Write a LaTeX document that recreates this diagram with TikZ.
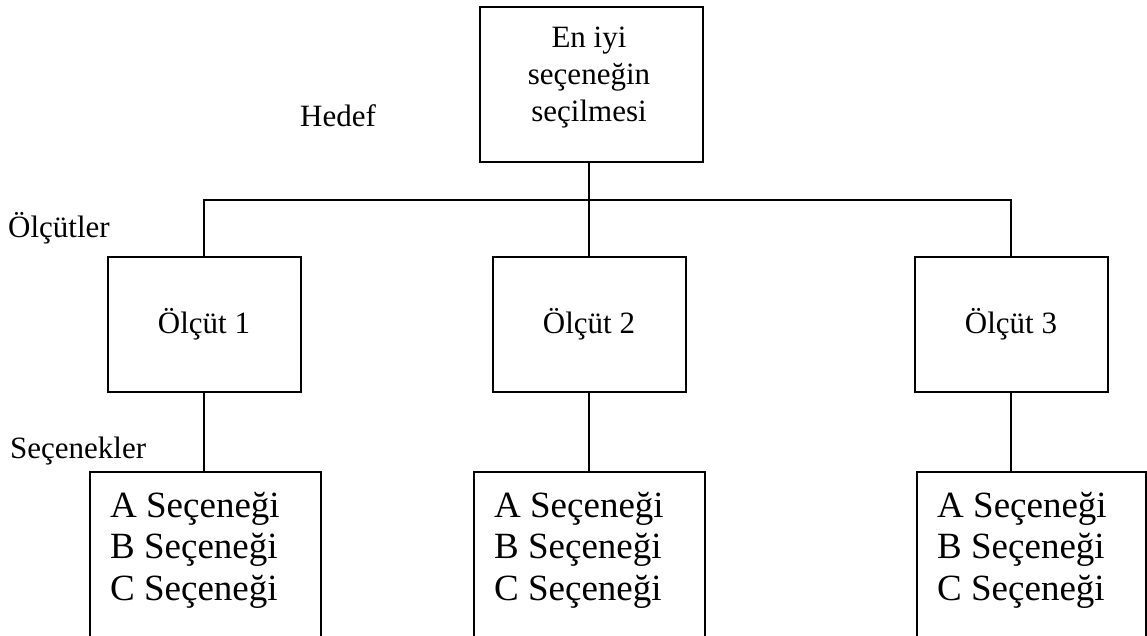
\documentclass[tikz,border=0pt]{standalone}
\usepackage{fontspec}
\setmainfont{Liberation Serif}
\begin{document}
\begin{tikzpicture}[x=1pt,y=-1pt,
  every node/.style={font=\fontsize{31}{37}\selectfont},
  boxstyle/.style={draw, line width=2pt, inner sep=0pt},
  wire/.style={line width=2pt},
  opttext/.style={anchor=north west, inner sep=0pt, align=left, font=\fontsize{37}{41.5}\selectfont}]
\useasboundingbox (0,0) rectangle (1147,636);
\clip (0,0) rectangle (1147,636);
% goal
\node[boxstyle, minimum width=223pt, minimum height=155pt] (goal) at (591.5,84.5) {};
\node[anchor=north, inner sep=0pt, align=center] (goaltext) at (589,27) {En iyi\\seçeneğin\\seçilmesi};
% labels
\node[anchor=base west, inner sep=0pt] (hedef) at (300,127) {Hedef};
\node[anchor=base west, inner sep=0pt] (olcutler) at (8,237) {Ölçütler};
\node[anchor=base west, inner sep=0pt] (secenekler) at (10,458) {Seçenekler};
% criteria
\node[boxstyle, minimum width=193pt, minimum height=135pt] (c1) at (204,324.5) {Ölçüt 1};
\node[boxstyle, minimum width=193pt, minimum height=135pt] (c2) at (589,324.5) {Ölçüt 2};
\node[boxstyle, minimum width=193pt, minimum height=135pt] (c3) at (1011,324.5) {Ölçüt 3};
% alternatives (boxes run past the bottom edge)
\node[boxstyle, minimum width=231pt, minimum height=230pt, anchor=north west] (s1) at (89,471) {};
\node[boxstyle, minimum width=231pt, minimum height=230pt, anchor=north west] (s2) at (473,471) {};
\node[boxstyle, minimum width=229pt, minimum height=230pt, anchor=north west] (s3) at (916,471) {};
\node[opttext] (s1t) at (110,492) {A Seçeneği\\B Seçeneği\\C Seçeneği};
\node[opttext] (s2t) at (494,492) {A Seçeneği\\B Seçeneği\\C Seçeneği};
\node[opttext] (s3t) at (937,492) {A Seçeneği\\B Seçeneği\\C Seçeneği};
% connectors
\coordinate (bus) at (0,200);
\draw[wire] (goal.south -| c2.north) -- (c2.north);
\draw[wire] (c1.north) -- (c1.north |- bus) -- (c3.north |- bus) -- (c3.north);
\draw[wire] (c1.south) -- (c1.south |- s1.north);
\draw[wire] (c2.south) -- (c2.south |- s2.north);
\draw[wire] (c3.south) -- (c3.south |- s3.north);
\end{tikzpicture}
\end{document}
